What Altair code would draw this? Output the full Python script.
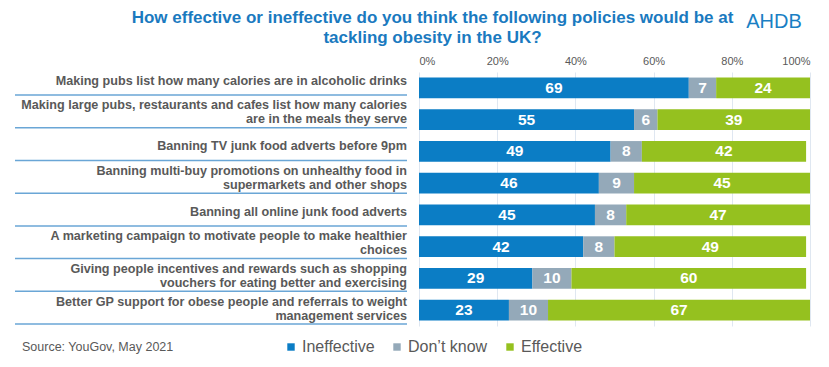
import altair as alt
import pandas as pd

policies = [
    "Making pubs list how many calories are in alcoholic drinks",
    "Making large pubs, restaurants and cafes list how many calories|are in the meals they serve",
    "Banning TV junk food adverts before 9pm",
    "Banning multi-buy promotions on unhealthy food in|supermarkets and other shops",
    "Banning all online junk food adverts",
    "A marketing campaign to motivate people to make healthier|choices",
    "Giving people incentives and rewards such as shopping|vouchers for eating better and exercising",
    "Better GP support for obese people and referrals to weight|management services",
]
ineffective = [69, 55, 49, 46, 45, 42, 29, 23]
dont_know = [7, 6, 8, 9, 8, 8, 10, 10]
effective = [24, 39, 42, 45, 47, 49, 60, 67]
responses = ["Ineffective", "Don\u2019t know", "Effective"]
colors = ["#0b7dc5", "#94a9b9", "#95c11f"]
x_ticks = [0, 20, 40, 60, 80, 100]

rows = []
for i, p in enumerate(policies):
    for j, (r, v) in enumerate(zip(responses, [ineffective[i], dont_know[i], effective[i]])):
        rows.append({"policy": p, "response": r, "order": j, "value": v})
df = pd.DataFrame(rows)

lab_rows = []
for p in policies:
    parts = p.split("|")
    lab_rows.append({"policy": p, "line1": parts[0],
                     "line2": parts[1] if len(parts) > 1 else "",
                     "n": len(parts)})
lab = pd.DataFrame(lab_rows)
src = pd.DataFrame({"t": ["Source: YouGov, May 2021"]})
logo = pd.DataFrame({"t": ["AHDB"]})

font = "Liberation Sans"
narrow = "Liberation Sans Narrow, Arial Narrow, Liberation Sans"
label_color = "#595959"

ybars = alt.Y("policy:N", sort=policies, axis=None,
              scale=alt.Scale(domain=policies, paddingInner=0.35, paddingOuter=0.175))

base = alt.Chart(df).transform_stack(
    stack="value", groupby=["policy"], as_=["v0", "v1"],
    sort=[alt.SortField("order", "ascending")]
)

bars = base.mark_bar().encode(
    x=alt.X("v0:Q", scale=alt.Scale(domain=[0, 100], nice=False),
            axis=alt.Axis(orient="top", values=x_ticks, labelExpr="datum.value + '%'",
                          title=None, domain=False, ticks=False, grid=True,
                          gridColor="#dfe7f1", labelColor=label_color, labelFontSize=11,
                          labelFont=font, labelPadding=6)),
    x2="v1:Q",
    y=ybars,
    color=alt.Color("response:N", scale=alt.Scale(domain=responses, range=colors),
                    legend=alt.Legend(orient="none", legendX=-136, legendY=267,
                                      direction="horizontal", title=None,
                                      symbolType="square", symbolSize=55,
                                      symbolStrokeWidth=0, labelFontSize=16,
                                      labelFont=narrow, labelColor=label_color,
                                      columnPadding=14, labelOffset=3)),
)

vals = base.transform_calculate(mid="(datum.v0 + datum.v1) / 2").mark_text(
    color="white", fontWeight="bold", fontSize=15.5, font=font
).encode(x="mid:Q", y=ybars, text="value:Q")

label_scale = alt.Scale(domain=policies, range=[-9.6, 252], paddingInner=0, paddingOuter=0)
ylab = alt.Y("policy:N", sort=policies, axis=None, scale=label_scale)

label_base = alt.Chart(lab)
text_style = dict(align="right", baseline="middle", fontWeight="bold",
                  fontSize=12.6, font=font, color=label_color)

labels_single = label_base.transform_filter("datum.n == 1").mark_text(
    dy=2, **text_style
).encode(x=alt.value(-12), y=ylab, text="line1:N")

labels_top = label_base.transform_filter("datum.n == 2").mark_text(
    dy=-6, **text_style
).encode(x=alt.value(-12), y=ylab, text="line1:N")

labels_bottom = label_base.transform_filter("datum.n == 2").mark_text(
    dy=8, **text_style
).encode(x=alt.value(-12), y=ylab, text="line2:N")

seps = label_base.mark_rule(color="#6aa6d6", strokeWidth=1.5).encode(
    x=alt.value(-404), x2=alt.value(-12),
    y=alt.Y("policy:N", sort=policies, axis=None, bandPosition=1, scale=label_scale),
)

source = alt.Chart(src).mark_text(
    align="left", baseline="middle", fontSize=12.5, font=narrow, color=label_color
).encode(x=alt.value(-397), y=alt.value(275), text="t:N")

ahdb = alt.Chart(logo).mark_text(
    align="center", baseline="middle", fontSize=20, font=font, color="#1a7fc4"
).encode(x=alt.value(355), y=alt.value(-50), text="t:N")

chart = alt.layer(bars, vals, labels_single, labels_top, labels_bottom, seps,
                  source, ahdb).resolve_scale(
    y="independent"
).properties(
    width=391, height=254,
    title=alt.Title(
        text=["How effective or ineffective do you think the following policies would be at",
              "tackling obesity in the UK?"],
        anchor="middle", dx=-182, dy=39, fontSize=17, font=font, fontWeight="bold",
        color="#1a7abf", lineHeight=20, offset=4),
    autosize=alt.AutoSizeParams(type="none"),
    padding={"left": 411, "top": 64, "right": 11, "bottom": 33},
).configure_view(stroke=None)

chart.save("out.html", embed_options={"renderer": "svg", "actions": False})
